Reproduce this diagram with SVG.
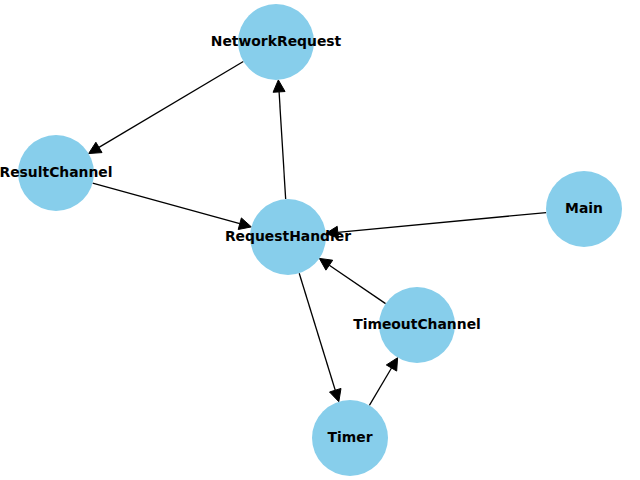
<svg xmlns="http://www.w3.org/2000/svg" width="640" height="480" viewBox="0 0 640 480">
<style>
.node circle{fill:#87CEEB;stroke:none}
.node text{font-family:"DejaVu Sans",sans-serif;font-weight:bold;font-size:13.9px;text-anchor:middle;fill:#000}
.edge line{stroke:#000;stroke-width:1.3}
.edge polygon{fill:#000;stroke:#000;stroke-width:1;stroke-linejoin:miter}
</style>
<rect width="640" height="480" fill="#fff"/>
<g id="connectors">
<g class="edge" id="e-NetworkRequest-ResultChannel"><line x1="243.35" y1="61.44" x2="98.96" y2="147.42"/><polygon points="88.65,153.56 95.89,142.26 102.03,152.58"/></g>
<g class="edge" id="e-ResultChannel-RequestHandler"><line x1="92.63" y1="183.10" x2="239.80" y2="223.71"/><polygon points="251.37,226.90 238.20,229.49 241.40,217.93"/></g>
<g class="edge" id="e-RequestHandler-NetworkRequest"><line x1="285.67" y1="199.07" x2="279.07" y2="91.91"/><polygon points="278.33,79.93 285.06,91.54 273.08,92.28"/></g>
<g class="edge" id="e-Main-RequestHandler"><line x1="546.17" y1="212.58" x2="337.78" y2="232.29"/><polygon points="325.83,233.42 337.21,226.32 338.35,238.26"/></g>
<g class="edge" id="e-TimeoutChannel-RequestHandler"><line x1="385.61" y1="303.59" x2="329.30" y2="265.17"/><polygon points="319.39,258.41 332.68,260.21 325.92,270.13"/></g>
<g class="edge" id="e-RequestHandler-Timer"><line x1="299.20" y1="273.31" x2="335.26" y2="390.22"/><polygon points="338.80,401.69 329.53,391.99 340.99,388.45"/></g>
<g class="edge" id="e-Timer-TimeoutChannel"><line x1="369.38" y1="405.31" x2="391.50" y2="368.01"/><polygon points="397.62,357.69 396.66,371.07 386.34,364.95"/></g>
</g>
<g class="node" id="NetworkRequest"><circle cx="276" cy="42" r="38"/><text x="276" y="46.2">NetworkRequest</text></g>
<g class="node" id="ResultChannel"><circle cx="56" cy="173" r="38"/><text x="56" y="177.2">ResultChannel</text></g>
<g class="node" id="RequestHandler"><circle cx="288" cy="237" r="38"/><text x="288" y="241.2">RequestHandler</text></g>
<g class="node" id="Main"><circle cx="584" cy="209" r="38"/><text x="584" y="213.2">Main</text></g>
<g class="node" id="TimeoutChannel"><circle cx="417" cy="325" r="38"/><text x="417" y="329.2">TimeoutChannel</text></g>
<g class="node" id="Timer"><circle cx="350" cy="438" r="38"/><text x="350" y="442.2">Timer</text></g>
</svg>
